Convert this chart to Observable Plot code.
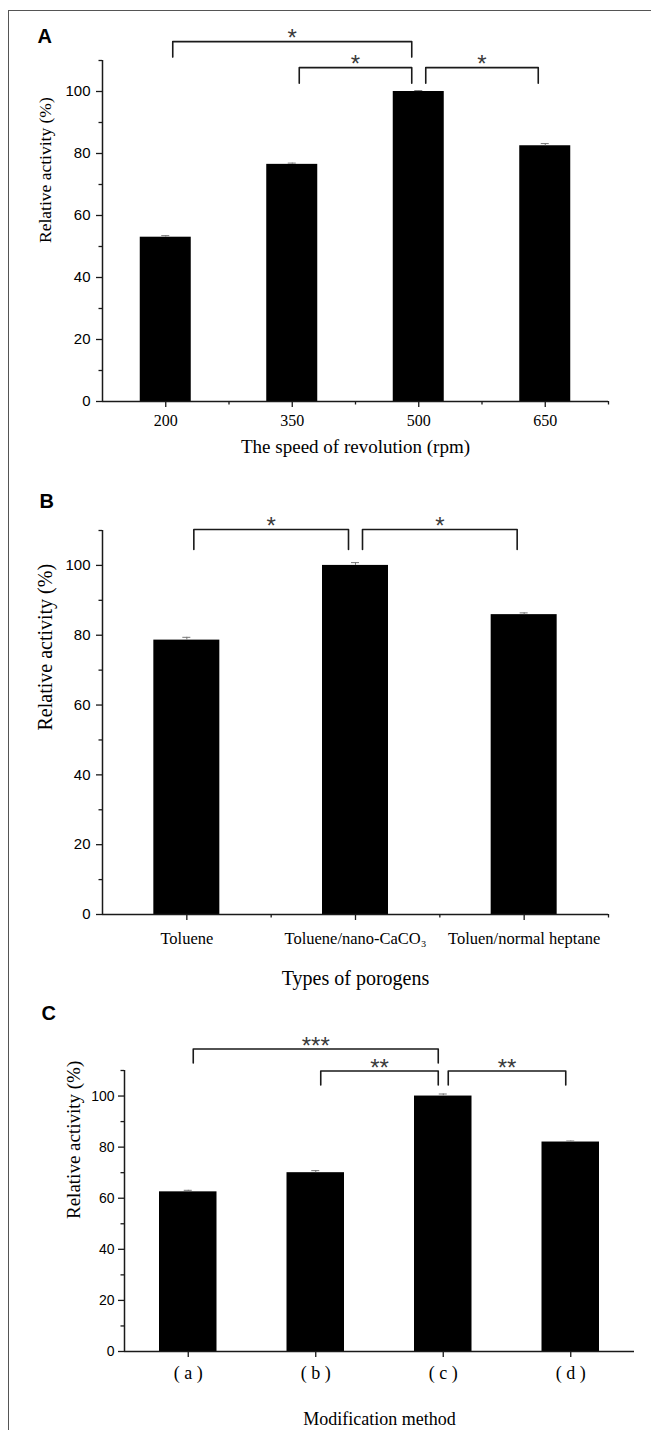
<!DOCTYPE html>
<html><head><meta charset="utf-8">
<script src="https://cdn.jsdelivr.net/npm/d3@7"></script>
<script src="https://cdn.jsdelivr.net/npm/@observablehq/plot@0.6"></script>
<style>
body{margin:0;background:#fff;}
#page{position:relative;width:651px;height:1430px;overflow:hidden;background:#fff;}
#frame{position:absolute;left:8px;top:10px;right:-5px;bottom:-5px;border-left:1.5px solid #555;border-top:1.5px solid #555;pointer-events:none;z-index:2;}
#page svg{display:block;}
</style></head><body><div id="page"></div>
<script>
// ---------- data ----------
const speedCategories = [200, 350, 500, 650];
const speedActivity = [53.0, 76.5, 100.0, 82.5];
const speedError = [0.5, 0.4, 0.3, 0.7];
const speedMinorTicks = [275, 425, 575, 725];

const porogenCategories = ["Toluene", "Toluene/nano-CaCO\u2083", "Toluen/normal heptane"];
const porogenActivity = [78.6, 100.0, 85.9];
const porogenError = [0.8, 0.8, 0.5];

const methodCategories = ["( a )", "( b )", "( c )", "( d )"];
const methodActivity = [62.5, 70.0, 100.0, 82.0];
const methodError = [0.6, 0.8, 0.8, 0.4];

const yMajorTicks = [0, 20, 40, 60, 80, 100];
const yMinorTicks = [10, 30, 50, 70, 90, 110];

const speedBrackets = [
  {from: 200, to: 500, level: 116.1, label: "*"},
  {from: 350, to: 500, level: 107.7, label: "*"},
  {from: 500, to: 650, level: 107.7, label: "*"}
];
const porogenBrackets = [
  {from: 1, to: 2, level: 110.3, label: "*"},
  {from: 2, to: 3, level: 110.3, label: "*"}
];
const methodBrackets = [
  {from: 1, to: 3, level: 118.4, label: "***"},
  {from: 2, to: 3, level: 109.8, label: "**"},
  {from: 3, to: 4, level: 109.8, label: "**"}
];

// ---------- styles ----------
const SANS = "'Liberation Sans', Arial, Helvetica, sans-serif";
const SERIF = "'Liberation Serif', 'Times New Roman', Times, serif";
const INK = "#1a1a1a";

function panel(cfg) {
  const W = 651;
  const frameW = W - cfg.marginLeft - cfg.marginRight;
  const upp = (cfg.xDomain[1] - cfg.xDomain[0]) / frameW; // data units per px
  const bars = cfg.cats.map((c, i) => ({x: cfg.xs[i], v: cfg.values[i], e: cfg.errors[i]}));
  const half = cfg.barPx / 2 * upp;
  const cap = 4 * upp;
  const inset = cfg.insetPx * upp;
  const legU = cfg.legPx / cfg.pxPerY;
  const bpts = [];
  cfg.brackets.forEach((b, k) => {
    const a = b.from + inset, z = b.to - inset;
    bpts.push({id: k, x: a, y: b.level - legU}, {id: k, x: a, y: b.level},
              {id: k, x: z, y: b.level}, {id: k, x: z, y: b.level - legU});
  });
  const x0 = cfg.xDomain[0];
  return Plot.plot({
    width: W, height: cfg.height,
    marginTop: cfg.marginTop, marginBottom: cfg.marginBottom,
    marginLeft: cfg.marginLeft, marginRight: cfg.marginRight,
    x: {domain: cfg.xDomain, label: null},
    y: {domain: [0, 110], label: null},
    style: {fontFamily: SANS, color: "black", background: "transparent", overflow: "visible"},
    marks: [
      Plot.rect(bars, {x1: d => d.x - half, x2: d => d.x + half, y1: 0, y2: "v", fill: "black"}),
      Plot.ruleX(bars, {x: "x", y1: "v", y2: d => d.v + d.e, stroke: "#777", strokeWidth: 1}),
      Plot.ruleY(bars, {y: d => d.v + d.e, x1: d => d.x - cap, x2: d => d.x + cap, stroke: "#777", strokeWidth: 1}),
      Plot.ruleY([0], {stroke: INK, strokeWidth: 1.5}),
      Plot.ruleX([x0], {y1: 0, y2: 110, stroke: INK, strokeWidth: 1.5}),
      Plot.axisY(yMajorTicks, {tickSize: 6, tickPadding: cfg.yPad, fontSize: cfg.yFont, fontFamily: SANS, stroke: INK, strokeWidth: 1.3, label: null}),
      Plot.axisY(yMinorTicks, {tickSize: 3.5, tickFormat: () => "", stroke: INK, strokeWidth: 1.3, label: null}),
      Plot.axisX(cfg.xs, {tickSize: 6, tickPadding: cfg.xPad, fontSize: cfg.xFont, fontFamily: SERIF, stroke: INK, strokeWidth: 1.3,
        tickFormat: d => cfg.cats[cfg.xs.indexOf(d)], label: null}),
      cfg.minor.length ? Plot.axisX(cfg.minor, {tickSize: 3.5, tickFormat: () => "", stroke: INK, strokeWidth: 1.3, label: null}) : null,
      Plot.line(bpts, {x: "x", y: "y", z: "id", stroke: INK, strokeWidth: 1.6}),
      Plot.text(cfg.brackets, {x: d => (d.from + d.to) / 2, y: "level", text: "label", dy: -3, fontSize: 24, fontFamily: SANS, fill: "#3a3a3a"}),
      Plot.text([cfg.xTitle], {frameAnchor: "bottom", dy: cfg.xTitleDy, fontSize: cfg.xTitleFont, fontFamily: SERIF, lineAnchor: "middle"}),
      Plot.text(["Relative activity (%)"], {frameAnchor: "left", rotate: -90, dx: cfg.yTitleDx, dy: cfg.yTitleDy, fontSize: cfg.yTitleFont, fontFamily: SERIF}),
      Plot.text([cfg.letter], {frameAnchor: "top-left", dx: cfg.letterDx, dy: cfg.letterDy, textAnchor: "start", lineAnchor: "top", fontSize: 20, fontWeight: "bold", fontFamily: SANS})
    ]
  });
}

const page = document.getElementById("page");

page.appendChild(panel({
  letter: "A", cats: speedCategories.map(String), xs: speedCategories, values: speedActivity, errors: speedError,
  xDomain: [125, 725], minor: speedMinorTicks, brackets: speedBrackets,
  height: 470, marginTop: 60, marginBottom: 69, marginLeft: 102, marginRight: 43,
  pxPerY: 3.1, barPx: 51, insetPx: 7, legPx: 15.5,
  yFont: 15, yPad: 6, xFont: 16, xPad: 7,
  xTitle: "The speed of revolution (rpm)", xTitleDy: 45, xTitleFont: 19,
  yTitleDx: -57, yTitleDy: 12, yTitleFont: 17.5,
  letterDx: -65, letterDy: -32
}));

page.appendChild(panel({
  letter: "B", cats: porogenCategories, xs: [1, 2, 3], values: porogenActivity, errors: porogenError,
  xDomain: [0.5, 3.5], minor: [1.5, 2.5, 3.5], brackets: porogenBrackets,
  height: 525, marginTop: 60, marginBottom: 81, marginLeft: 102, marginRight: 43,
  pxPerY: 3.485, barPx: 66, insetPx: 7, legPx: 20,
  yFont: 15, yPad: 6, xFont: 16.5, xPad: 12,
  xTitle: "Types of porogens", xTitleDy: 64, xTitleFont: 20,
  yTitleDx: -57, yTitleDy: 8, yTitleFont: 20,
  letterDx: -63, letterDy: -37
}));

page.appendChild(panel({
  letter: "C", cats: methodCategories, xs: [1, 2, 3, 4], values: methodActivity, errors: methodError,
  xDomain: [0.5, 4.5], minor: [], brackets: methodBrackets,
  height: 435, marginTop: 75, marginBottom: 79, marginLeft: 124, marginRight: 17,
  pxPerY: 2.55, barPx: 57.5, insetPx: 5, legPx: 14,
  yFont: 14, yPad: 4, xFont: 18, xPad: 9,
  xTitle: "Modification method", xTitleDy: 68, xTitleFont: 18,
  yTitleDx: -51, yTitleDy: 8, yTitleFont: 19,
  letterDx: -83, letterDy: -65
}));

const frame = document.createElement("div");
frame.id = "frame";
page.appendChild(frame);
</script>
</body></html>
